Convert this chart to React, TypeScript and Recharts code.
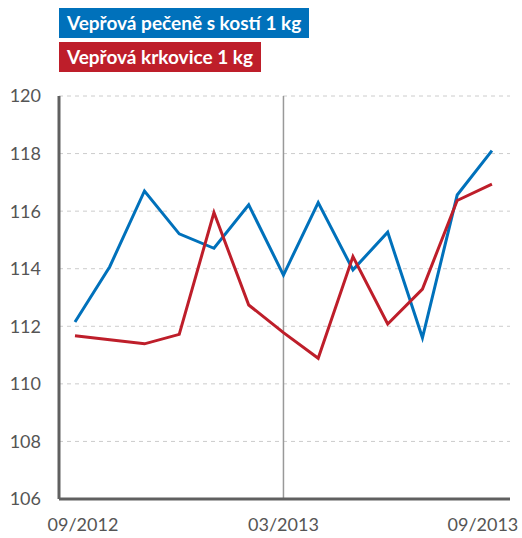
import React from 'react';
import {
  LineChart,
  Line,
  XAxis,
  YAxis,
  CartesianGrid,
  ReferenceLine,
} from 'recharts';

const months = [
  '09/2012', '10/2012', '11/2012', '12/2012', '01/2013', '02/2013', '03/2013',
  '04/2013', '05/2013', '06/2013', '07/2013', '08/2013', '09/2013',
];

const pecene = [
  112.15, 114.07, 116.7, 115.21, 114.71, 116.22, 113.78, 116.3, 113.96, 115.27, 111.6, 116.56, 118.1,
];

const krkovice = [
  111.67, 111.53, 111.39, 111.72, 115.95, 112.74, 111.78, 110.89, 114.42, 112.08, 113.29, 116.37, 116.94,
];

const yTicks = [106, 108, 110, 112, 114, 116, 118, 120];
const xTicks = [0, 6, 12];

const seriesNames = ['Vepřová pečeně s kostí 1 kg', 'Vepřová krkovice 1 kg'];
const colors = ['#0071bb', '#be1e2a'];

const data = months.map((m, i) => ({
  idx: i,
  month: m,
  pecene: pecene[i],
  krkovice: krkovice[i],
}));

const font = 'Lato, "Open Sans", sans-serif';

function XTick(props: any) {
  const { x, y, payload } = props;
  const shift = payload.value === 0 ? 8 : payload.value === 12 ? -9 : 0;
  return (
    <text
      x={x + shift}
      y={y}
      dy={24}
      textAnchor="middle"
      fill="#555"
      fontSize={18}
      fontFamily={font}
    >
      {months[payload.value]}
    </text>
  );
}

function LegendBoxes() {
  return (
    <div
      style={{
        position: 'absolute',
        left: 59,
        top: 8,
        display: 'flex',
        flexDirection: 'column',
        alignItems: 'flex-start',
        gap: 4,
      }}
    >
      {seriesNames.map((name, i) => (
        <div
          key={name}
          style={{
            background: colors[i],
            color: '#fff',
            fontFamily: font,
            fontWeight: 700,
            fontSize: 19,
            height: 30,
            lineHeight: '30px',
            padding: '0 8px',
            whiteSpace: 'nowrap',
          }}
        >
          {name}
        </div>
      ))}
    </div>
  );
}

export default function App() {
  return (
    <div style={{ position: 'absolute', left: 0, top: 0, width: 522, height: 538, background: '#fff' }}>
      <LineChart width={522} height={538} data={data} margin={{ top: 96, right: 12, left: 0, bottom: 9 }}>
        <CartesianGrid vertical={false} stroke="#cccccc" strokeDasharray="4 4" />
        <XAxis
          dataKey="idx"
          type="number"
          domain={[-0.46, 12.52]}
          ticks={xTicks}
          allowDataOverflow
          tickLine={false}
          axisLine={{ stroke: '#606060', strokeWidth: 3 }}
          tick={<XTick />}
          height={30}
        />
        <YAxis
          domain={[106, 120]}
          ticks={yTicks}
          width={59}
          tickLine={false}
          tickMargin={12}
          axisLine={{ stroke: '#606060', strokeWidth: 3 }}
          tick={{ fill: '#555', fontSize: 18, fontFamily: font }}
        />
        <ReferenceLine x={6} stroke="#999" strokeWidth={1.5} />
        <Line
          type="linear"
          dataKey="pecene"
          name={seriesNames[0]}
          stroke={colors[0]}
          strokeWidth={3}
          dot={false}
          isAnimationActive={false}
        />
        <Line
          type="linear"
          dataKey="krkovice"
          name={seriesNames[1]}
          stroke={colors[1]}
          strokeWidth={3}
          dot={false}
          isAnimationActive={false}
        />
      </LineChart>
      <LegendBoxes />
    </div>
  );
}
